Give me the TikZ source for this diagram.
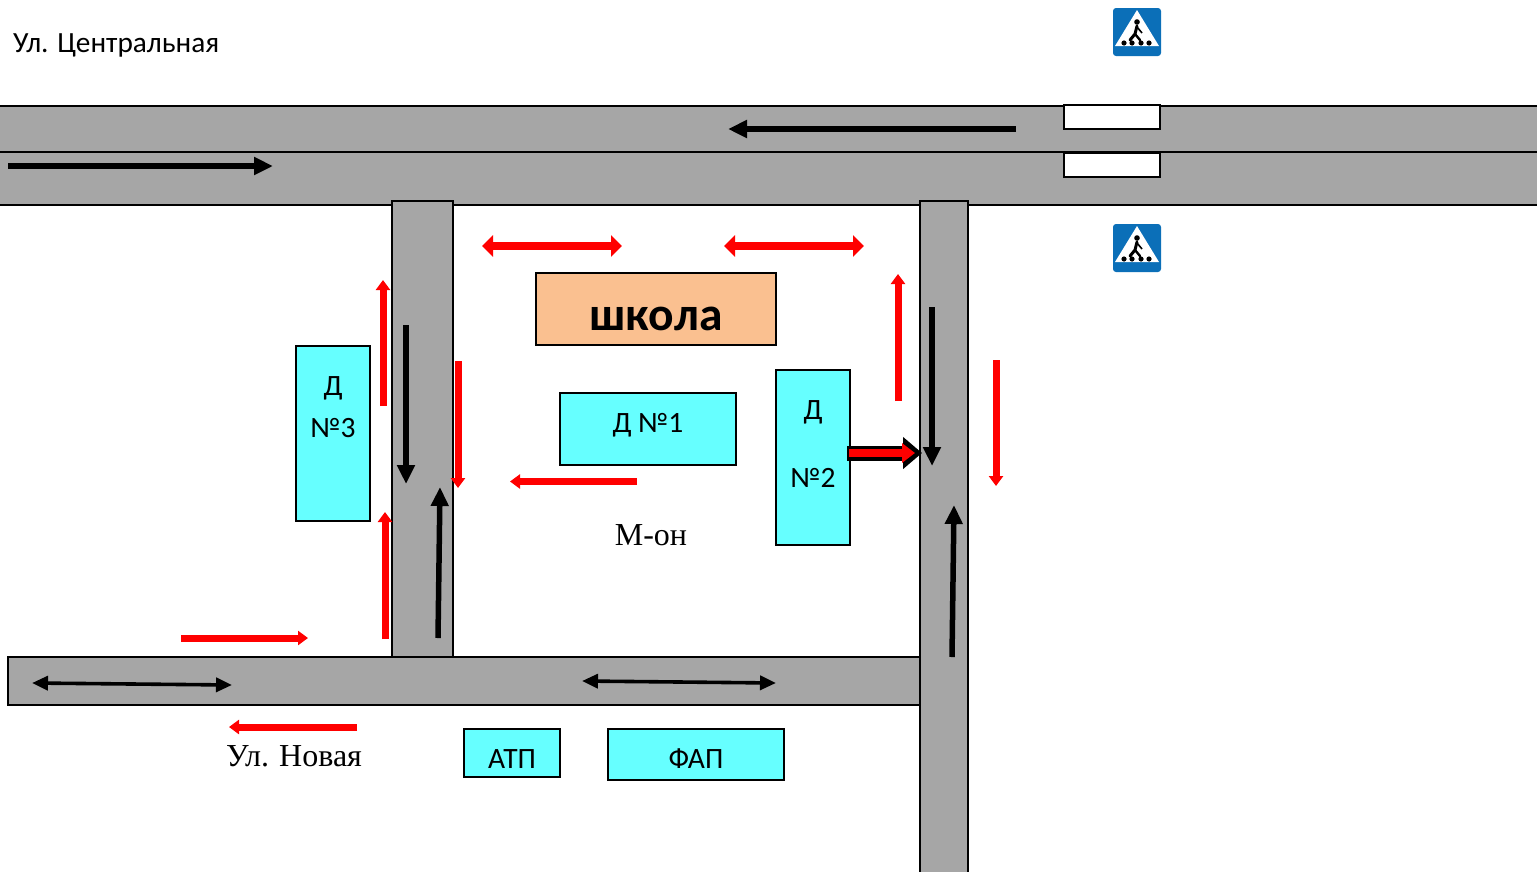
\documentclass[tikz,border=0pt]{standalone}
\usepackage{fontspec}
\setmainfont{Carlito}
\newfontfamily\serifcyr{Liberation Serif}
\usetikzlibrary{arrows.meta,positioning}
\definecolor{roadgray}{HTML}{A6A6A6}
\definecolor{housecyan}{HTML}{66FFFF}
\definecolor{schoolorange}{HTML}{FAC090}
\definecolor{signblue}{HTML}{0B6FB8}
\tikzset{
  road/.style={fill=roadgray,draw=black,line width=1.5pt},
  house/.style={fill=housecyan,draw=black,line width=1.5pt,inner sep=0pt,align=center,font=\fontsize{29.5}{35}\selectfont},
  zebra/.style={fill=white,draw=black,line width=1.5pt},
  blackarrow/.style={draw=black,line width=5.5pt,-{Triangle[length=19pt,width=17pt]}},
  blackboth/.style={draw=black,line width=3.6pt,{Triangle[length=16pt,width=14pt]}-{Triangle[length=16pt,width=14pt]}},
  redarrow/.style={draw=red,line width=7pt,-{Triangle[length=10pt,width=14pt]}},
  redboth/.style={draw=red,line width=7.5pt,{Triangle[length=11pt,width=21pt]}-{Triangle[length=11pt,width=21pt]}},
  plain/.style={inner sep=0pt,anchor=west},
}
\newcommand{\pedsign}[2]{%
  \begin{scope}[shift={(#1,#2)}]
    \fill[signblue,rounded corners=3pt] (0,0) rectangle (48,48);
    \fill[white] (24,2) -- (46,38) -- (2,38) -- cycle;
    \fill[black] (24,14) circle (2.8);
    \draw[black,line width=3pt,line cap=round] (24,18) -- (22,26) -- (17,32);
    \draw[black,line width=2.4pt,line cap=round] (22,26) -- (27,32);
    \draw[black,line width=1.6pt] (24,19) -- (29,25);
    \fill[black] (11,35) circle (2.6) (19,35) circle (2.6) (28,35) circle (2.6) (36,35) circle (2.6);
  \end{scope}}
\begin{document}
\begin{tikzpicture}[x=1pt,y=-1pt]
\useasboundingbox (0,0) rectangle (1537,871);
% roads
\path[road] (-5,106) rectangle (1545,152);
\path[road] (-5,152) rectangle (1545,205);
\path[road] (8,657) rectangle (920,705);
\path[road] (392,201) rectangle (453,657);
\path[road] (920,201) rectangle (968,880);
% crossing
\path[zebra] (1064,105) rectangle (1160,129);
\path[zebra] (1064,153) rectangle (1160,177);
\pedsign{1113}{8}
\pedsign{1113}{224}
% nodes
\node[house,fill=schoolorange,minimum width=240pt,minimum height=72pt] (school) at (656,309) {};
\node[inner sep=0pt,font=\bfseries\fontsize{47.5}{55}\selectfont] (schooltext) at (656,319) {школа};
\node[house,minimum width=176pt,minimum height=72pt] (d1) at (648,429) {};
\node[inner sep=0pt,font=\fontsize{29.5}{35}\selectfont] (d1text) at (648,425) {Д №1};
\node[house,minimum width=74pt,minimum height=175pt] (d2) at (813,457.5) {};
\node[font=\fontsize{29.5}{35}\selectfont,inner sep=0pt] (d2a) at (813,412) {Д};
\node[font=\fontsize{29.5}{35}\selectfont,inner sep=0pt] (d2b) at (813,478) {№2};
\node[house,minimum width=74pt,minimum height=175pt] (d3) at (333,433.5) {};
\node[font=\fontsize{29.5}{35}\selectfont,inner sep=0pt] (d3a) at (333,388) {Д};
\node[font=\fontsize{29.5}{35}\selectfont,inner sep=0pt] (d3b) at (333,428) {№3};
\node[house,minimum width=96pt,minimum height=48pt] (atp) at (512,753) {};
\node[inner sep=0pt,font=\fontsize{29.5}{35}\selectfont] (atptext) at (512,759) {АТП};
\node[house,minimum width=176pt,minimum height=51pt] (fap) at (696,754.5) {};
\node[inner sep=0pt,font=\fontsize{29.5}{35}\selectfont] (faptext) at (696,759) {ФАП};
\node[plain,font=\fontsize{29.3}{35}\selectfont] (central) at (13,45) {Ул. Центральная};
\node[inner sep=0pt,font=\serifcyr\fontsize{32}{38}\selectfont] (mon) at (651,535) {М-он};
\node[inner sep=0pt,font=\serifcyr\fontsize{32}{38}\selectfont] (novaya) at (294,756) {Ул.\hspace{-0.5pt} Новая};
% arrow ends
\foreach \n/\x/\y in {a1s/1016/129,a1e/728/129,a2s/8/166,a2e/273/166,
  a3s/406/325,a3e/406/484,a4s/438/638,a4e/440/487,a5s/932/307,a5e/932/466,
  a6s/952/657,a6e/954/505,a7s/32/683,a7e/232/685,a8s/582/681,a8e/776/683,
  r1s/482/246,r1e/622/246,r2s/724/246,r2e/864/246,r3s/898/401,r3e/898/274,
  r4s/996/360,r4e/996/486,r5s/383/406,r5e/383/280,r6s/458/361,r6e/458/488,
  r7s/637/481.5,r7e/510/481.5,r8s/385/639,r8e/385/512,r9s/181/638,r9e/308/638,
  r10s/357/727,r10e/229/727,x1s/847/453,x1e/922/453}
  {\coordinate (\n) at (\x,\y);}
% black arrows
\draw[blackarrow,line width=6pt] (a1s) -- (a1e);
\draw[blackarrow,line width=6pt] (a2s) -- (a2e);
\draw[blackarrow] (a3s) -- (a3e);
\draw[blackarrow] (a4s) -- (a4e);
\draw[blackarrow] (a5s) -- (a5e);
\draw[blackarrow] (a6s) -- (a6e);
\draw[blackboth] (a7s) -- (a7e);
\draw[blackboth] (a8s) -- (a8e);
% red arrows
\draw[redboth] (r1s) -- (r1e);
\draw[redboth] (r2s) -- (r2e);
\draw[redarrow] (r3s) -- (r3e);
\draw[redarrow] (r4s) -- (r4e);
\draw[redarrow] (r5s) -- (r5e);
\draw[redarrow] (r6s) -- (r6e);
\draw[redarrow] (r7s) -- (r7e);
\draw[redarrow] (r8s) -- (r8e);
\draw[redarrow] (r9s) -- (r9e);
\draw[redarrow] (r10s) -- (r10e);
% exit arrow
\draw[draw=black,line width=15pt,-{Triangle[length=19pt,width=31pt]}] (x1s) -- (x1e);
\draw[draw=red,line width=8pt,-{Triangle[length=13pt,width=19pt]}] (849,453) -- (915,453);
\end{tikzpicture}
\end{document}
